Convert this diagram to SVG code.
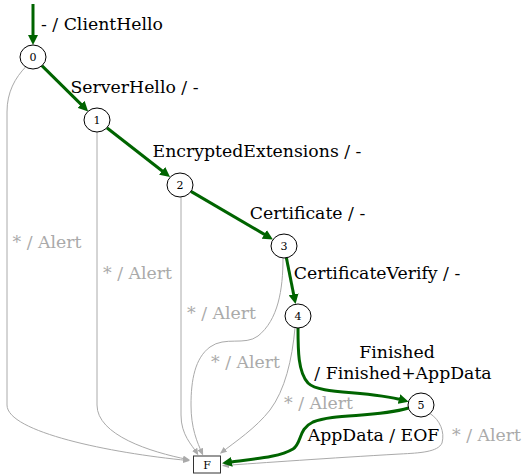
<svg xmlns="http://www.w3.org/2000/svg" width="524" height="474" viewBox="0 0 524 474">
<style>
.node ellipse{fill:#fff;stroke:#000;stroke-width:1}
.node rect{fill:#fff;stroke:#333;stroke-width:1}
.nl{font-family:"DejaVu Serif",serif;font-size:11px;text-anchor:middle;fill:#000}
.g{fill:none;stroke:#006400;stroke-width:3;marker-end:url(#ag)}
.a{fill:none;stroke:#aaa;stroke-width:1;marker-end:url(#aa)}
.lb{font-family:"DejaVu Serif",serif;font-size:17.3px;text-anchor:middle;fill:#000}
.la{font-family:"DejaVu Serif",serif;font-size:17.3px;text-anchor:middle;fill:#aaa}
</style>
<defs>
<marker id="ag" markerUnits="userSpaceOnUse" viewBox="0 0 10 10" markerWidth="10" markerHeight="10" refX="5" refY="5" orient="auto"><path d="M0,0 L10,5 L0,10 z" fill="#006400"/></marker>
<marker id="aa" markerUnits="userSpaceOnUse" viewBox="0 0 7 6" markerWidth="7" markerHeight="6" refX="5" refY="3" orient="auto"><path d="M0,0 L7,3 L0,6 z" fill="#aaa"/></marker>
</defs>
<rect width="524" height="474" fill="#fff"/>
<g id="connectors">
<path class="a" d="M26,66.5 C15,78 7,92 7,112 L7,405 C7,432 110,453 188,460.5"/>
<path class="a" d="M97,132 L97,405 C97,435 150,452 188,459.5"/>
<path class="a" d="M181,197 L181,415 C181,435 192,445 197.3,453.6"/>
<path class="a" d="M283,258 C283,290 278,320 258,336 C245,346 225,336 210,347 C195,358 191,380 191,405 C191,428 197,442 202.3,453.6"/>
<path class="a" d="M295,328 C292,360 285,390 270,410 C256,428 235,442 221.5,452.5"/>
<path class="a" d="M430,413.5 C440,420 445,432 442,443 C438,452 420,453 400,454 C330,458 260,463 224,465.5"/>
<path class="g" d="M33,4 L33,40"/>
<path class="g" d="M41.6,65.4 L84.6,107.9"/>
<path class="g" d="M106.8,127.7 L166.1,174"/>
<path class="g" d="M190.9,191.4 L268.6,236.9"/>
<path class="g" d="M286.3,257.4 L294.6,299.2"/>
<path class="g" d="M298,328 C298,350 298,372 308,383 C320,395 365,390 403.8,400.4"/>
<path class="g" d="M408.5,408 C375,418 335,413 313,422 C298,429 302,443 293,449 C278,458 250,459 227,462.6"/>
<text class="lb" x="102" y="30">- / ClientHello</text>
<text class="lb" x="134.5" y="93">ServerHello / -</text>
<text class="lb" x="257" y="157">EncryptedExtensions / -</text>
<text class="lb" x="307.5" y="219">Certificate / -</text>
<text class="lb" x="377" y="279">CertificateVerify / -</text>
<text class="lb" x="397" y="358">Finished</text>
<text class="lb" x="403" y="379">/ Finished+AppData</text>
<text class="lb" x="373.5" y="441">AppData / EOF</text>
<text class="la" x="47" y="248">* / Alert</text>
<text class="la" x="137.5" y="279">* / Alert</text>
<text class="la" x="221.5" y="319">* / Alert</text>
<text class="la" x="245.5" y="368">* / Alert</text>
<text class="la" x="318.5" y="409">* / Alert</text>
<text class="la" x="486.5" y="441">* / Alert</text>
</g>
<g id="n0" class="node"><ellipse cx="33" cy="57" rx="13" ry="12"/><text class="nl" x="33" y="61">0</text></g>
<g id="n1" class="node"><ellipse cx="97" cy="120" rx="13" ry="12"/><text class="nl" x="97" y="124">1</text></g>
<g id="n2" class="node"><ellipse cx="180" cy="185" rx="13" ry="12"/><text class="nl" x="180" y="189">2</text></g>
<g id="n3" class="node"><ellipse cx="284" cy="246" rx="13" ry="12"/><text class="nl" x="284" y="250">3</text></g>
<g id="n4" class="node"><ellipse cx="298" cy="316" rx="13" ry="12"/><text class="nl" x="298" y="320">4</text></g>
<g id="n5" class="node"><ellipse cx="421" cy="405" rx="13" ry="12"/><text class="nl" x="421" y="409">5</text></g>
<g id="nF" class="node"><rect x="193.5" y="456" width="27" height="17"/><text class="nl" x="207" y="469">F</text></g>
</svg>
